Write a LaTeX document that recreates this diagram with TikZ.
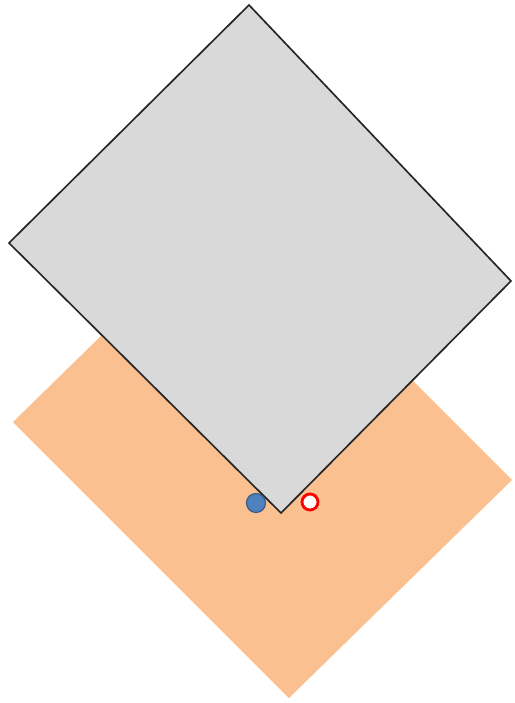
\documentclass[tikz,border=0pt]{standalone}
\usetikzlibrary{calc}

\definecolor{sheetgray}{HTML}{D9D9D9}
\definecolor{sheetorange}{HTML}{FAC090}
\definecolor{dotblue}{HTML}{4F81BD}
\definecolor{dotblueline}{HTML}{385D8A}
\definecolor{ringred}{HTML}{FF0000}

\begin{document}
\begin{tikzpicture}[
        x=0.02cm, y=-0.02cm,
        lower/.style={fill=sheetorange, draw=none},
        upper/.style={fill=sheetgray, draw=black!85, line width=0.95pt, line join=miter},
        bluedot/.style={fill=dotblue, draw=dotblueline, line width=0.7pt},
        redring/.style={fill=white, draw=ringred, line width=1.6pt}
    ]
    \useasboundingbox (0,0) rectangle (514,703);

    % corners of the two sheets
    \coordinate (OrangeL) at (13,422);
    \coordinate (OrangeB) at (289,698);
    \coordinate (OrangeR) at (512,480);
    \coordinate (OrangeT) at ($(OrangeL)+(OrangeR)-(OrangeB)$);
    \coordinate (GrayT) at (249,5);
    \coordinate (GrayL) at (9,243);
    \coordinate (GrayB) at (281,513);
    \coordinate (GrayR) at (511,281);

    \fill[lower] (OrangeT) -- (OrangeR) -- (OrangeB) -- (OrangeL) -- cycle;
    \filldraw[upper] (GrayT) -- (GrayR) -- (GrayB) -- (GrayL) -- cycle;

    % markers beside the lower corner
    \filldraw[bluedot] (256,503) circle (9.5);
    \filldraw[redring] (310,502) circle (8);

\end{tikzpicture}
\end{document}
